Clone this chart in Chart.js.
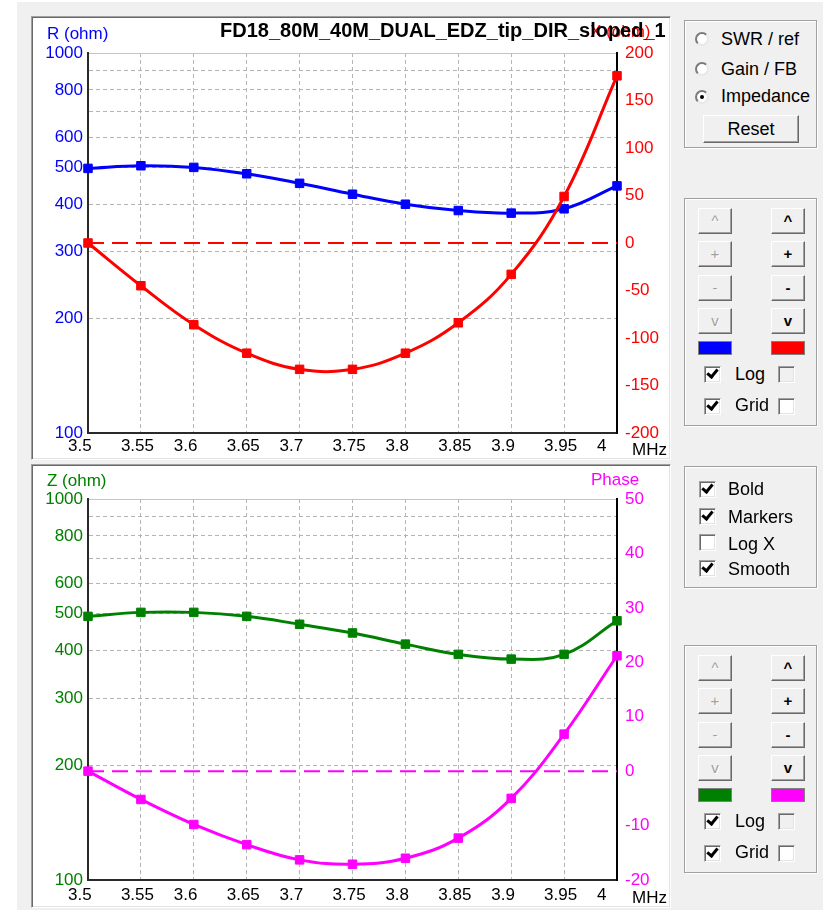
<!DOCTYPE html>
<html>
<head>
<meta charset="utf-8">
<title>Impedance</title>
<script src="https://cdn.jsdelivr.net/npm/chart.js@4.4.1/dist/chart.umd.min.js"></script>
<style>
  html, body { margin: 0; padding: 0; }
  body { position: relative; width: 823px; height: 910px; overflow: hidden; background: #fff;
         font-family: "Liberation Sans", Arial, sans-serif; color: #000; }
  #win { position: absolute; left: 17px; top: 2px; width: 806px; height: 908px; background: #f0f0f0; }
  .panel { position: absolute; left: 31px; width: 638px; height: 442px; background: #fff;
           border: 1px solid; border-color: #a0a0a0 #fff #fff #a0a0a0;
           box-shadow: inset 1px 1px 0 #696969, inset -1px -1px 0 #e3e3e3; }
  canvas { position: absolute; left: 33px; }
  .lbl { position: absolute; font-size: 17px; line-height: 17px; white-space: nowrap; }
  .title { position: absolute; left: 220px; top: 18px; width: 449px; height: 25px; overflow: hidden;
           font-size: 20px; line-height: 24px; font-weight: bold; white-space: nowrap; }
  .grp { position: absolute; left: 684px; width: 131px; border: 1px solid #a0a0a0;
         box-shadow: inset 1px 1px 0 #fff, 1px 1px 0 #fff; }
  .btn { position: absolute; box-sizing: border-box; background: #f0f0f0; text-align: center;
         border: 1px solid; border-color: #fff #696969 #696969 #fff;
         box-shadow: inset -1px -1px 0 #a0a0a0; font-size: 15px; }
  .btn.dis { color: #a0a0a0; text-shadow: 1px 1px 0 #fff; }
  .btn.en { font-weight: bold; }
  .txt { position: absolute; font-size: 18px; line-height: 18px; white-space: nowrap; }
  .cb { position: absolute; box-sizing: border-box; width: 17px; height: 17px; background: #fff;
        border: 1px solid; border-color: #a0a0a0 #fff #fff #a0a0a0;
        box-shadow: inset 1px 1px 0 #696969, inset -1px -1px 0 #e3e3e3; }
  .cb.off { background: #f0f0f0; }
  .cb.on::after { content: ""; position: absolute; left: 4px; top: 0px; width: 4px; height: 8px;
                  border: solid #000; border-width: 0 3px 3px 0; transform: rotate(40deg); }
  .rad { position: absolute; box-sizing: border-box; width: 14px; height: 14px; border-radius: 50%;
         background: #fff; border: 2px solid; border-color: #7a7a7a #e8e8e8 #e8e8e8 #7a7a7a; }
  .rad.on::after { content: ""; position: absolute; left: 3px; top: 3px; width: 4px; height: 4px;
                   border-radius: 50%; background: #000; }
  .sw { position: absolute; box-sizing: border-box; width: 34px; height: 14px; border: 1px solid #808080; }
</style>
</head>
<body>
<div id="win"></div>

<div class="panel" style="top:16px"></div>
<div class="panel" style="top:464px"></div>

<canvas id="chartTop" width="636" height="440" style="top:18px"></canvas>
<canvas id="chartBottom" width="636" height="440" style="top:466px"></canvas>

<div class="lbl" style="left:47px; top:25px; color:#0000ff">R (ohm)</div>
<div class="lbl" style="left:590px; top:23px; color:#ff0000">X (ohm)</div>
<div class="title">FD18_80M_40M_DUAL_EDZ_tip_DIR_sloped_1</div>
<div class="lbl" style="left:632px; top:441px">MHz</div>

<div class="lbl" style="left:47px; top:472px; color:#008000">Z (ohm)</div>
<div class="lbl" style="left:591px; top:471px; color:#ff00ff">Phase</div>
<div class="lbl" style="left:632px; top:889px">MHz</div>

<div class="grp" style="top:20px; height:126px"></div>
<div class="rad" style="left:695px; top:32px"></div>
<div class="txt" style="left:721px; top:30px">SWR / ref</div>
<div class="rad" style="left:695px; top:62px"></div>
<div class="txt" style="left:721px; top:60px">Gain / FB</div>
<div class="rad on" style="left:695px; top:90px"></div>
<div class="txt" style="left:721px; top:87px">Impedance</div>
<div class="btn" style="left:703px; top:115px; width:96px; height:28px; font-size:18px; line-height:26px; font-weight:normal">Reset</div>

<div class="grp" style="top:466px; height:120px"></div>
<div class="cb on" style="left:699px; top:481px"></div>
<div class="txt" style="left:728px; top:480px">Bold</div>
<div class="cb on" style="left:699px; top:508px"></div>
<div class="txt" style="left:728px; top:508px">Markers</div>
<div class="cb" style="left:699px; top:534px"></div>
<div class="txt" style="left:728px; top:535px">Log X</div>
<div class="cb on" style="left:699px; top:560px"></div>
<div class="txt" style="left:728px; top:560px">Smooth</div>

<script>
// ---- data ----
const freqs = [3.5, 3.55, 3.6, 3.65, 3.7, 3.75, 3.8, 3.85, 3.9, 3.95, 4.0];
const resistance = [497, 505, 500, 481, 454, 425, 400, 385, 379, 389, 447];
const reactance = [0, -45, -86, -116, -133, -133, -116, -84, -33, 49, 176];
const impedance = [492, 504, 504, 492, 469, 445, 416, 391, 380, 391, 479];
const phase = [0, -5.2, -9.8, -13.5, -16.3, -17.1, -16.0, -12.3, -5.0, 6.8, 21.2];

// zero reference line on the right axis
const refFreqs = [3.5, 4.0];
const refZero = [0, 0];

// ticks
const freqTicks = [3.5, 3.55, 3.6, 3.65, 3.7, 3.75, 3.8, 3.85, 3.9, 3.95, 4.0];
const freqTickLabels = ['3.5', '3.55', '3.6', '3.65', '3.7', '3.75', '3.8', '3.85', '3.9', '3.95', '4'];
const ohmTicks = [100, 200, 300, 400, 500, 600, 700, 800, 900, 1000];
const ohmTickLabels = ['100', '200', '300', '400', '500', '600', '', '800', '', '1000'];
const reactTicks = [-200, -150, -100, -50, 0, 50, 100, 150, 200];
const phaseTicks = [-20, -10, 0, 10, 20, 30, 40, 50];

const GRID_COLOR = '#b4b4b4';
const TOP_LINE = '#c4c4c4';
const AXIS_COLOR = '#2a2a2a';
const CLEAR = 'rgba(0,0,0,0)';
const FONT = { family: 'Liberation Sans', size: 17 };

function toPoints(xs, ys) {
    return xs.map((x, i) => ({ x: x, y: ys[i] }));
}

function seriesStyle(color) {
    return {
        borderColor: color, backgroundColor: color,
        borderWidth: 3, tension: 0.4,
        pointStyle: 'rect', pointRadius: 6, pointBorderWidth: 1,
        pointBackgroundColor: color, pointBorderColor: color,
        clip: false
    };
}

function makeChart(canvasId, cfg) {
    const ctx = document.getElementById(canvasId).getContext('2d');
    return new Chart(ctx, {
        type: 'line',
        data: {
            datasets: [
                Object.assign({ label: cfg.rightName, data: toPoints(freqs, cfg.rightValues), yAxisID: 'y1' }, seriesStyle(cfg.rightColor)),
                Object.assign({ label: cfg.leftName, data: toPoints(freqs, cfg.leftValues), yAxisID: 'y' }, seriesStyle(cfg.leftColor)),
                {
                    label: 'zero', data: toPoints(refFreqs, refZero), yAxisID: 'y1',
                    borderColor: cfg.rightColor, borderWidth: 2, borderDash: [16, 8],
                    pointRadius: 0, tension: 0
                }
            ]
        },
        options: {
            responsive: false,
            animation: false,
            devicePixelRatio: 1,
            layout: { padding: { top: cfg.padTop, left: 0, right: 0, bottom: 0 } },
            plugins: { legend: { display: false }, tooltip: { enabled: false } },
            scales: {
                x: {
                    type: 'linear', min: 3.5, max: 4.0,
                    afterBuildTicks: s => { s.ticks = freqTicks.map(v => ({ value: v })); },
                    afterFit: s => { s.height = cfg.xHeight; },
                    ticks: {
                        autoSkip: false, maxRotation: 0, align: 'start', labelOffset: -20,
                        padding: cfg.xPad, color: '#000', font: FONT,
                        callback: (v, i) => freqTickLabels[i]
                    },
                    grid: {
                        drawTicks: false, lineWidth: 1,
                        color: c => (c.index === 0 || c.index === freqTicks.length - 1) ? CLEAR : GRID_COLOR
                    },
                    border: { display: true, color: AXIS_COLOR, width: 2, dash: [4, 3] }
                },
                y: {
                    type: 'logarithmic', position: 'left', min: 100, max: 1000,
                    afterBuildTicks: s => { s.ticks = ohmTicks.map(v => ({ value: v })); },
                    afterFit: s => { s.width = 55; },
                    ticks: {
                        autoSkip: false, padding: 5, color: cfg.leftColor, font: FONT,
                        callback: (v, i) => ohmTickLabels[i]
                    },
                    grid: {
                        drawTicks: false, lineWidth: 1,
                        color: c => {
                            if (!c.tick) return GRID_COLOR;
                            if (c.tick.value === 100) return CLEAR;
                            if (c.tick.value === 1000) return TOP_LINE;
                            return GRID_COLOR;
                        }
                    },
                    border: {
                        display: true, color: AXIS_COLOR, width: 2,
                        dash: c => (c.tick && c.tick.value === 1000) ? [] : [4, 3]
                    }
                },
                y1: {
                    type: 'linear', position: 'right', min: cfg.rightMin, max: cfg.rightMax,
                    afterBuildTicks: s => { s.ticks = cfg.rightTicks.map(v => ({ value: v })); },
                    afterFit: s => { s.width = 52; },
                    ticks: {
                        autoSkip: false, padding: 8, color: cfg.rightColor, font: FONT,
                        callback: v => String(v)
                    },
                    grid: { drawOnChartArea: false, drawTicks: false },
                    border: { display: true, color: '#000', width: 2 }
                }
            }
        }
    });
}

makeChart('chartTop', {
    leftName: 'R', leftValues: resistance, leftColor: '#0000ff',
    rightName: 'X', rightValues: reactance, rightColor: '#ff0000',
    rightMin: -200, rightMax: 200, rightTicks: reactTicks,
    padTop: 35, xHeight: 25, xPad: 3
});

makeChart('chartBottom', {
    leftName: 'Z', leftValues: impedance, leftColor: '#008000',
    rightName: 'Phase', rightValues: phase, rightColor: '#ff00ff',
    rightMin: -20, rightMax: 50, rightTicks: phaseTicks,
    padTop: 33, xHeight: 26, xPad: 5
});

// ---- side panel with axis controls ----
function el(cls, style, text) {
    const d = document.createElement('div');
    d.className = cls;
    d.style.cssText = style;
    if (text) d.textContent = text;
    document.body.appendChild(d);
    return d;
}

const BUTTON_GLYPHS = ['^', '+', '-', 'v'];
const BUTTON_ROWS = [10, 43, 77, 110];

function addAxisGroup(top, leftColor, rightColor) {
    el('grp', `top:${top}px; height:226px`);
    BUTTON_ROWS.forEach((dy, i) => {
        el('btn dis', `left:698px; top:${top + dy}px; width:34px; height:26px; line-height:24px`, BUTTON_GLYPHS[i]);
        el('btn en', `left:771px; top:${top + dy}px; width:34px; height:26px; line-height:24px`, BUTTON_GLYPHS[i]);
    });
    el('sw', `left:698px; top:${top + 143}px; background:${leftColor}`);
    el('sw', `left:771px; top:${top + 143}px; background:${rightColor}`);
    el('cb on', `left:704px; top:${top + 168}px`);
    el('txt', `left:735px; top:${top + 167}px`, 'Log');
    el('cb off', `left:778px; top:${top + 168}px`);
    el('cb on', `left:704px; top:${top + 200}px`);
    el('txt', `left:735px; top:${top + 198}px`, 'Grid');
    el('cb', `left:778px; top:${top + 200}px`);
}

addAxisGroup(198, '#0000ff', '#ff0000');
addAxisGroup(645, '#008000', '#ff00ff');
</script>
</body>
</html>
